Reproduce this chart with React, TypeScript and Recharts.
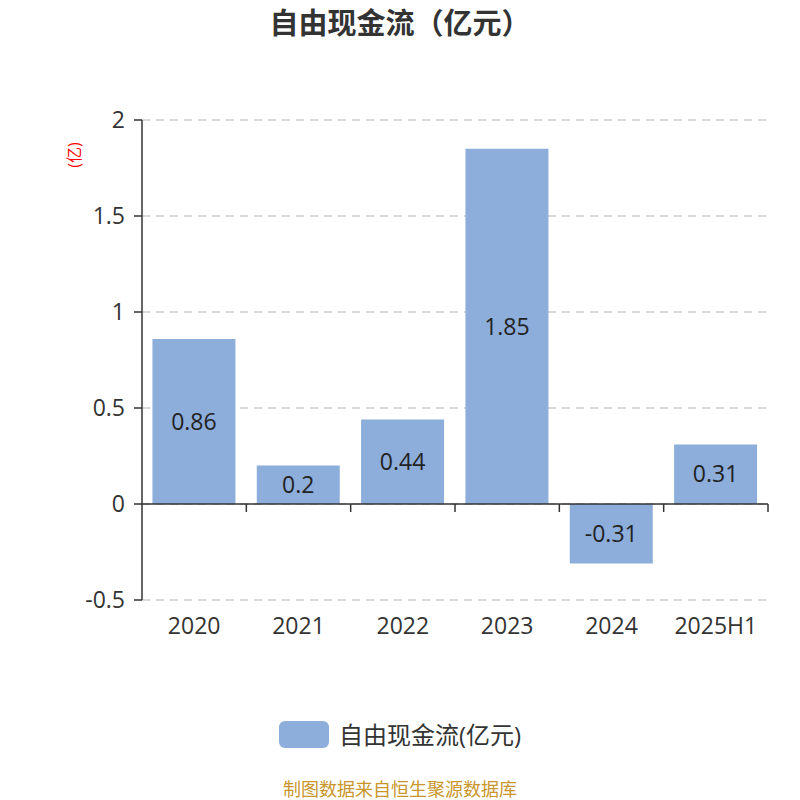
import { BarChart, Bar, XAxis, YAxis, CartesianGrid, ReferenceLine, LabelList } from 'recharts'

const years = ['2020', '2021', '2022', '2023', '2024', '2025H1']
const cashFlow = [0.86, 0.2, 0.44, 1.85, -0.31, 0.31]
const yTicks = [-0.5, 0, 0.5, 1, 1.5, 2]

const data = years.map((year, i) => ({ year, value: cashFlow[i] }))

const FONT = '"Open Sans", "Noto Sans CJK SC", sans-serif'
const BAR_COLOR = '#8DADDA'

// zero line with tick marks between categories
const ZeroLine = (props: any) => {
  const { x1, y1, x2, y2 } = props
  const step = (x2 - x1) / years.length
  return (
    <g>
      <line x1={x1} y1={y1} x2={x2} y2={y2} stroke="#333" strokeWidth={1.5} />
      {years.map((_, i) => (
        <line key={i} x1={x1 + step * (i + 1)} y1={y1} x2={x1 + step * (i + 1)} y2={y1 + 8} stroke="#333" strokeWidth={1.5} />
      ))}
    </g>
  )
}

export default function App() {
  return (
    <div style={{ position: 'absolute', left: 0, top: 0, width: 800, height: 800, background: '#fff', fontFamily: FONT }}>
      <div style={{ position: 'absolute', top: 8, width: 800, textAlign: 'center', fontSize: 29, lineHeight: '29px', fontWeight: 'bold', color: '#333' }}>
        自由现金流（亿元）
      </div>
      <div style={{ position: 'absolute', left: 61, top: 146, fontSize: 16, color: '#f00', transform: 'rotate(-90deg)', lineHeight: '18px' }}>
        (亿)
      </div>
      <BarChart width={800} height={800} data={data} margin={{ top: 120, right: 32, bottom: 150, left: 82 }} barCategoryGap="10%">
        <CartesianGrid vertical={false} stroke="#ccc" strokeDasharray="8 6" strokeWidth={1.5} />
        <XAxis dataKey="year" axisLine={false} tickLine={false} tickMargin={12} height={50}
          tick={{ fill: '#333', fontSize: 23, fontFamily: FONT }} />
        <YAxis domain={[-0.5, 2]} ticks={yTicks} width={60} tickSize={8} tickMargin={9}
          axisLine={{ stroke: '#333', strokeWidth: 1.5 }} tickLine={{ stroke: '#333', strokeWidth: 1.5 }}
          tick={{ fill: '#333', fontSize: 23, fontFamily: FONT }} />
        <Bar dataKey="value" fill={BAR_COLOR} isAnimationActive={false}>
          <LabelList dataKey="value" position="center" fill="#222" fontSize={23} fontFamily={FONT} />
        </Bar>
        <ReferenceLine y={0} shape={ZeroLine} />
      </BarChart>
      <div style={{ position: 'absolute', top: 721, width: 800, display: 'flex', justifyContent: 'center', alignItems: 'center', gap: 10 }}>
        <div style={{ width: 50, height: 27, borderRadius: 6, background: BAR_COLOR }} />
        <span style={{ fontSize: 24, lineHeight: '27px', color: '#333' }}>自由现金流(亿元)</span>
      </div>
      <div style={{ position: 'absolute', top: 779, width: 800, textAlign: 'center', fontSize: 18, lineHeight: '20px', color: '#C8962A' }}>
        制图数据来自恒生聚源数据库
      </div>
    </div>
  )
}
